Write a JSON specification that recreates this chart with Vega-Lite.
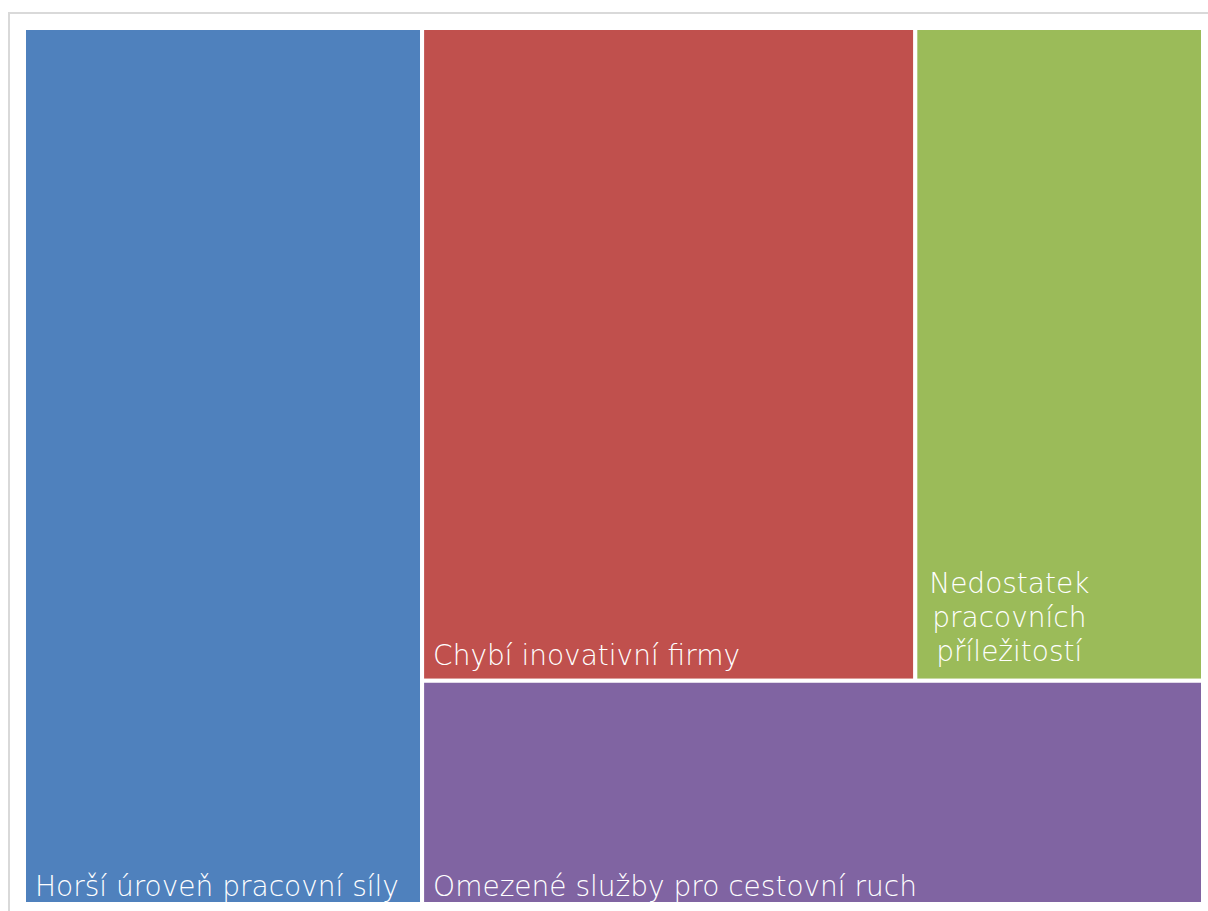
{
  "$schema": "https://vega.github.io/schema/vega-lite/v6.json",
  "width": 1200,
  "height": 900,
  "autosize": {"type": "none"},
  "padding": {"left": 9, "top": 13, "right": 0, "bottom": 0},
  "background": "white",
  "config": {"view": {"stroke": "#D9D9D9", "strokeWidth": 2}},
  "data": {
    "values": [
      {"name": "Horší úroveň pracovní síly", "value": 33.8, "col": "A", "row": 1, "order": 1},
      {"name": "Chybí inovativní firmy", "value": 31.2, "col": "B", "row": 1, "order": 1},
      {"name": "Nedostatek\npracovních\npříležitostí", "value": 18.2, "col": "B", "row": 1, "order": 2},
      {"name": "Omezené služby pro cestovní ruch", "value": 16.9, "col": "B", "row": 2, "order": 1}
    ]
  },
  "transform": [
    {"joinaggregate": [{"op": "sum", "field": "value", "as": "total"}]},
    {"stack": "value", "groupby": [], "sort": [{"field": "col"}, {"field": "order"}], "as": ["s0", "s1"]},
    {"joinaggregate": [{"op": "min", "field": "s0", "as": "colStart"}, {"op": "sum", "field": "value", "as": "colSum"}], "groupby": ["col"]},
    {"stack": "value", "groupby": ["col"], "sort": [{"field": "row"}, {"field": "order"}], "as": ["r0", "r1"]},
    {"joinaggregate": [{"op": "min", "field": "r0", "as": "rowStart"}, {"op": "sum", "field": "value", "as": "rowSum"}], "groupby": ["col", "row"]},
    {"stack": "value", "groupby": ["col", "row"], "sort": [{"field": "order"}], "as": ["c0", "c1"]},
    {"calculate": "datum.colStart / datum.total + (datum.c0 / datum.rowSum) * (datum.colSum / datum.total)", "as": "x0"},
    {"calculate": "datum.colStart / datum.total + (datum.c1 / datum.rowSum) * (datum.colSum / datum.total)", "as": "x1"},
    {"calculate": "datum.rowStart / datum.colSum", "as": "y0"},
    {"calculate": "(datum.rowStart + datum.rowSum) / datum.colSum", "as": "y1"}
  ],
  "encoding": {
    "x": {"field": "x0", "type": "quantitative", "scale": {"domain": [0, 1], "range": [15, 1194], "nice": false, "zero": false}, "axis": null},
    "y": {"field": "y0", "type": "quantitative", "scale": {"domain": [0, 1], "range": [15, 891], "nice": false, "zero": false}, "axis": null}
  },
  "layer": [
    {
      "mark": {"type": "rect", "stroke": "white", "strokeWidth": 4},
      "encoding": {
        "x2": {"field": "x1"},
        "y2": {"field": "y1"},
        "color": {
          "field": "name", "type": "nominal", "legend": null,
          "scale": {
            "domain": ["Horší úroveň pracovní síly", "Chybí inovativní firmy", "Nedostatek\npracovních\npříležitostí", "Omezené služby pro cestovní ruch"],
            "range": ["#4F81BD", "#C0504D", "#9BBB59", "#8064A2"]
          }
        }
      }
    },
    {
      "transform": [{"filter": "datum.row == 2 || datum.col == 'A'"}],
      "mark": {"type": "text", "align": "left", "baseline": "alphabetic", "dx": 11, "dy": -8, "font": "DejaVu Sans", "fontWeight": 200, "fontSize": 28, "color": "white"},
      "encoding": {"y": {"field": "y1", "type": "quantitative"}, "text": {"field": "name"}}
    },
    {
      "transform": [{"filter": "datum.col == 'B' && datum.row == 1 && datum.order == 1"}],
      "mark": {"type": "text", "align": "left", "baseline": "alphabetic", "dx": 11, "dy": -16, "font": "DejaVu Sans", "fontWeight": 200, "fontSize": 28, "color": "white"},
      "encoding": {"y": {"field": "y1", "type": "quantitative"}, "text": {"field": "name"}}
    },
    {
      "transform": [{"filter": "datum.col == 'B' && datum.row == 1 && datum.order == 2"}],
      "mark": {"type": "text", "align": "center", "baseline": "alphabetic", "lineBreak": "\n", "lineHeight": 34, "dx": 94, "dy": -88, "font": "DejaVu Sans", "fontWeight": 200, "fontSize": 28, "color": "white"},
      "encoding": {"y": {"field": "y1", "type": "quantitative"}, "text": {"field": "name"}}
    }
  ]
}
